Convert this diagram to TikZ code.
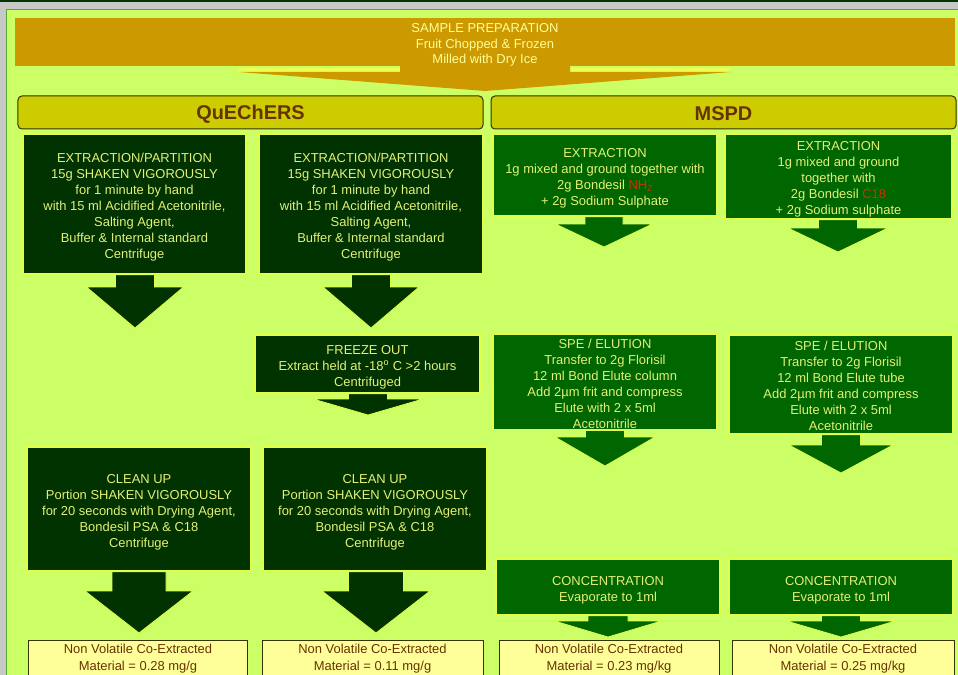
\documentclass[tikz,border=0pt]{standalone}
\usepackage{fontspec}
\setmainfont{Liberation Sans}
\usetikzlibrary{calc}
\definecolor{panel}{HTML}{CCFF66}
\definecolor{panelline}{HTML}{55AA33}
\definecolor{outer}{HTML}{C8C8C8}
\definecolor{topline}{HTML}{003300}
\definecolor{qgreen}{HTML}{003300}
\definecolor{mgreen}{HTML}{006600}
\definecolor{bordc}{RGB}{225,255,70}
\definecolor{txtc}{RGB}{228,240,120}
\definecolor{bannerc}{HTML}{CC9900}
\definecolor{bannertext}{HTML}{FFFF99}
\definecolor{hdrfill}{HTML}{CCCC00}
\definecolor{hdrline}{HTML}{333300}
\definecolor{brownc}{HTML}{663300}
\definecolor{resfill}{HTML}{FFFF99}
\definecolor{resline}{HTML}{333300}
\definecolor{redc}{HTML}{CC3300}
\definecolor{wingc}{RGB}{235,255,80}
\pgfdeclarelayer{bg}
\pgfdeclarelayer{arr}
\pgfsetlayers{bg,arr,main}
% centred lines, lowered by #1 while keeping the box size
\newcommand\tb[2]{\raisebox{#1}[\height][\depth]{\begin{tabular}{@{}c@{}}#2\end{tabular}}}
% #1 style, #2 node, #3 centre x, #4 shaft half width, #5 shaft bottom y, #6 head half width, #7 tip y
\newcommand\blockarr[7]{%
  \path[#1] ({#3-#4},0 |- #2.south) -- ({#3-#4},#5) -- ({#3-#6},#5) -- (#3,#7)
    -- ({#3+#6},#5) -- ({#3+#4},#5) -- ({#3+#4},0 |- #2.south) -- cycle;}
\tikzset{
  gbox/.style={rectangle, draw=bordc, line width=1.2bp, inner sep=0pt, text=txtc,
    font=\fontsize{13}{16}\selectfont},
  qbox/.style={gbox, fill=qgreen},
  mbox/.style={gbox, fill=mgreen},
  hdr/.style={rectangle, rounded corners=4bp, draw=hdrline, fill=hdrfill, line width=1bp,
    text=brownc, inner sep=0pt, execute at begin node={\rule{0pt}{17bp}}, font=\bfseries\fontsize{20}{24}\selectfont},
  res/.style={rectangle, draw=resline, fill=resfill, line width=1bp, inner sep=0pt,
    text=brownc, font=\fontsize{13}{17}\selectfont},
  banner/.style={rectangle, fill=bannerc, inner sep=0pt, text=bannertext,
    font=\fontsize{13}{15.5}\selectfont},
  qarr/.style={fill=qgreen, draw=bordc, line width=0.8bp, line join=miter},
  marr/.style={fill=mgreen, draw=bordc, line width=0.8bp, line join=miter},
  parr/.style={fill=bannerc, draw=none},
}
\begin{document}
\begin{tikzpicture}[x=1bp, y=-1bp]
\useasboundingbox (0,0) rectangle (958,675);
\clip (0,0) rectangle (958,675);
\begin{pgfonlayer}{bg}
  \fill[outer] (0,0) rectangle (958,675);
  \fill[topline] (0,0) rectangle (958,2);
  \filldraw[fill=panel, draw=panelline, line width=1bp] (6,9.5) rectangle (965,685);
\end{pgfonlayer}

\node[banner, minimum width=940bp, minimum height=48bp] (prep) at (485,42)
  {\tb{-3bp}{SAMPLE PREPARATION\\Fruit Chopped \& Frozen\\Milled with Dry Ice}};

\node[hdr, minimum width=465bp, minimum height=33bp] (hq) at (250.5,112.5) {QuEChERS};
\node[hdr, minimum width=465bp, minimum height=33bp] (hm) at (723.5,112.5) {MSPD};

% QuEChERS column
\node[qbox, minimum width=223bp, minimum height=140bp] (q1) at (134.5,204)
  {\tb{-3bp}{EXTRACTION/PARTITION\\15g SHAKEN VIGOROUSLY\\for 1 minute by hand\\with 15 ml Acidified Acetonitrile,\\Salting Agent,\\Buffer \& Internal standard\\Centrifuge}};
\node[qbox, minimum width=224bp, minimum height=140bp] (q2) at (371,204)
  {\tb{-3bp}{EXTRACTION/PARTITION\\15g SHAKEN VIGOROUSLY\\for 1 minute by hand\\with 15 ml Acidified Acetonitrile,\\Salting Agent,\\Buffer \& Internal standard\\Centrifuge}};
\node[qbox, minimum width=225bp, minimum height=58bp] (fz) at (367.5,364)
  {\tb{-3bp}{FREEZE OUT\\Extract held at -18\textsuperscript{o} C >2 hours\\Centrifuged}};
\node[qbox, minimum width=224bp, minimum height=124bp] (ce) at (139,509)
  {\tb{-3bp}{CLEAN UP\\Portion SHAKEN VIGOROUSLY\\for 20 seconds with Drying Agent,\\Bondesil PSA \& C18\\Centrifuge}};
\node[qbox, minimum width=224bp, minimum height=124bp] (cf) at (375,509)
  {\tb{-3bp}{CLEAN UP\\Portion SHAKEN VIGOROUSLY\\for 20 seconds with Drying Agent,\\Bondesil PSA \& C18\\Centrifuge}};

% MSPD column
\node[mbox, minimum width=224bp, minimum height=82bp] (ma) at (605,175)
  {\tb{-3bp}{EXTRACTION\\1g mixed and ground together with\\2g Bondesil \textcolor{redc}{NH\textsubscript{2}}\\+ 2g Sodium Sulphate}};
\node[mbox, minimum width=227bp, minimum height=85bp] (mb) at (838.5,176.5)
  {\tb{-3bp}{EXTRACTION\\1g mixed and ground\\together with\\2g Bondesil \textcolor{redc}{C18}\\+ 2g Sodium sulphate}};
\node[mbox, minimum width=224bp, minimum height=94bp] (sc) at (605,382)
  {\tb{-3bp}{SPE / ELUTION\\Transfer to 2g Florisil\\12 ml Bond Elute column\\Add 2µm frit and compress\\Elute with 2 x 5ml\\Acetonitrile}};
\node[mbox, minimum width=224bp, minimum height=99bp] (sd) at (841,384.5)
  {\tb{-3bp}{SPE / ELUTION\\Transfer to 2g Florisil\\12 ml Bond Elute tube\\Add 2µm frit and compress\\Elute with 2 x 5ml\\Acetonitrile}};
\node[mbox, minimum width=224bp, minimum height=56bp] (cg) at (608,587)
  {\tb{-3bp}{CONCENTRATION\\Evaporate to 1ml}};
\node[mbox, minimum width=224bp, minimum height=56bp] (ch) at (841,587)
  {\tb{-3bp}{CONCENTRATION\\Evaporate to 1ml}};

% results
\node[res, minimum width=218bp, minimum height=36bp] (re) at (138,658)
  {\tb{-1bp}{Non Volatile Co-Extracted\\Material = 0.28 mg/g}};
\node[res, minimum width=221bp, minimum height=36bp] (rf) at (372.5,658)
  {\tb{-1bp}{Non Volatile Co-Extracted\\Material = 0.11 mg/g}};
\node[res, minimum width=220bp, minimum height=36bp] (rg) at (609,658)
  {\tb{-1bp}{Non Volatile Co-Extracted\\Material = 0.23 mg/kg}};
\node[res, minimum width=222bp, minimum height=36bp] (rh) at (843,658)
  {\tb{-1bp}{Non Volatile Co-Extracted\\Material = 0.25 mg/kg}};

% arrows
\begin{pgfonlayer}{arr}
  \draw[wingc, line width=4bp] (238,70) -- (400,70) (570,70) -- (730,70);
  \blockarr{parr}{prep}{485}{85}{72}{246}{91}
  \blockarr{qarr}{q1}{135}{19.5}{287}{48.5}{328}
  \blockarr{qarr}{q2}{371}{19.5}{287}{48}{328}
  \blockarr{qarr}{fz}{368}{19.5}{399}{55}{415}
  \blockarr{qarr}{ce}{139}{27}{591}{54}{633}
  \blockarr{qarr}{cf}{376}{27.5}{591}{54}{633}
  \blockarr{marr}{ma}{604}{19}{224}{48.5}{247}
  \blockarr{marr}{mb}{838}{19.5}{228}{50}{252}
  \blockarr{marr}{sc}{605}{19.5}{437}{50}{466}
  \blockarr{marr}{sd}{841}{19.5}{445}{52}{473}
  \blockarr{marr}{cg}{608}{20}{621}{53.5}{637}
  \blockarr{marr}{ch}{841}{19.5}{621}{54.5}{637}
\end{pgfonlayer}
\end{tikzpicture}
\end{document}
